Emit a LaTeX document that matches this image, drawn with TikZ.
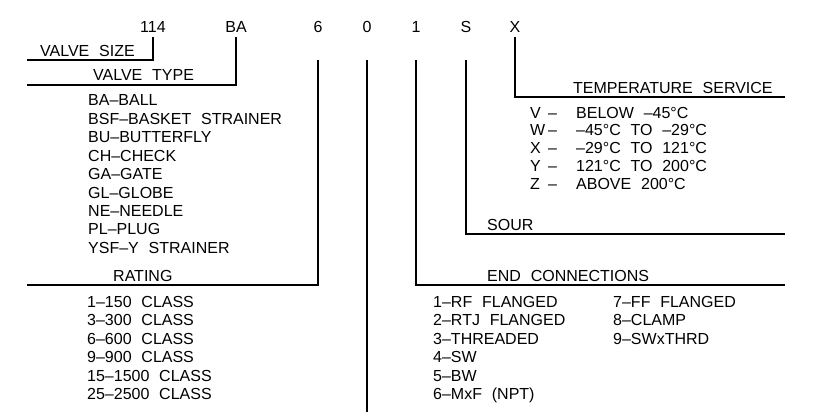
\documentclass[tikz,border=0pt]{standalone}
\usepackage{fontspec}
\newfontfamily\cad[WordSpace=2.2]{Liberation Sans}
\begin{document}
\begin{tikzpicture}[x=1pt,y=-1pt,
  lbl/.style={inner sep=0pt, anchor=base west, font=\cad\fontsize{16}{19}\selectfont},
  code/.style={inner sep=0pt, anchor=base, font=\cad\fontsize{16}{19}\selectfont},
  ln/.style={line width=1.2pt, line cap=rect}]
\useasboundingbox[fill=white] (0,0) rectangle (817,412);
% code letters
\node[code] (c114) at (153,33) {114};
\node[code] (cBA) at (236,33) {BA};
\node[code] (c6) at (318,33) {6};
\node[code] (c0) at (367,33) {0};
\node[code] (c1) at (416,33) {1};
\node[code] (cS) at (466,33) {S};
\node[code] (cX) at (515,33) {X};
% line end coordinates
\coordinate (sizeL) at (28,60);
\coordinate (typeL) at (28,85);
\coordinate (ratL) at (28,285);
\coordinate (zeroB) at (367,412);
\coordinate (endR) at (784,285);
\coordinate (sourR) at (784,234);
\coordinate (tempR) at (784,97);
% connectors
\draw[ln] ([yshift=-4pt]c114.south) |- (sizeL);
\draw[ln] ([yshift=-4pt]cBA.south) |- (typeL);
\draw[ln] ([yshift=-27pt]c6.south) |- (ratL);
\draw[ln] ([yshift=-27pt]c0.south) -- (zeroB);
\draw[ln] ([yshift=-27pt]c1.south) |- (endR);
\draw[ln] ([yshift=-27pt]cS.south) |- (sourR);
\draw[ln] ([yshift=-4pt]cX.south) |- (tempR);
% headings
\node[lbl] (hSize) at (40,57) {VALVE SIZE};
\node[lbl] (hType) at (93,81) {VALVE TYPE};
\node[lbl] (hRat) at (113,281) {RATING};
\node[lbl] (hEnd) at (487,281) {END CONNECTIONS};
\node[lbl] (hSour) at (487,230) {SOUR};
\node[lbl] (hTemp) at (573,93) {TEMPERATURE SERVICE};
% valve types
\foreach \t [count=\i from 0] in {BA–BALL,BSF–BASKET STRAINER,BU–BUTTERFLY,CH–CHECK,GA–GATE,GL–GLOBE,NE–NEEDLE,PL–PLUG,YSF–Y STRAINER}
  \node[lbl] (vt\i) at (88,106+18.4*\i) {\t};
% ratings
\foreach \t [count=\i from 0] in {1–150 CLASS,3–300 CLASS,6–600 CLASS,9–900 CLASS,15–1500 CLASS,25–2500 CLASS}
  \node[lbl] (rt\i) at (87,307+18.5*\i) {\t};
% end connections
\foreach \t [count=\i from 0] in {1–RF FLANGED,2–RTJ FLANGED,3–THREADED,4–SW,5–BW,6–MxF (NPT)}
  \node[lbl] (ea\i) at (433,307+18.5*\i) {\t};
\foreach \t [count=\i from 0] in {7–FF FLANGED,8–CLAMP,9–SWxTHRD}
  \node[lbl] (eb\i) at (613,307+18.5*\i) {\t};
% temperature service
\foreach \l/\t [count=\i from 0] in {V/BELOW –45°C,W/–45°C TO –29°C,X/–29°C TO 121°C,Y/121°C TO 200°C,Z/ABOVE 200°C}{
  \node[lbl] (tl\i) at (530,118+17.9*\i) {\l};
  \node[lbl] (td\i) at (548,118+17.9*\i) {–};
  \node[lbl] (tt\i) at (576,118+17.9*\i) {\t};
}
\end{tikzpicture}
\end{document}
